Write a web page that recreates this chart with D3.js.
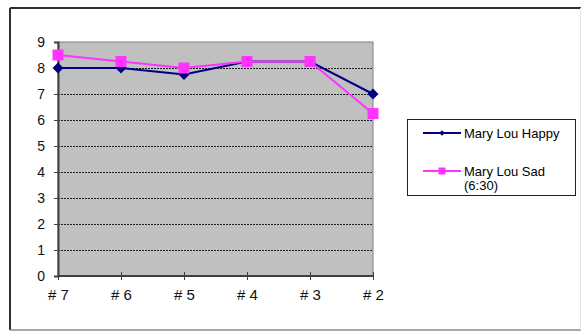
<!DOCTYPE html>
<html>
<head>
<meta charset="utf-8">
<script src="https://cdnjs.cloudflare.com/ajax/libs/d3/7.8.5/d3.min.js"></script>
<style>
body { margin: 0; background: #fff; }
svg { display: block; font-family: Arial, "Liberation Sans", sans-serif; }
</style>
</head>
<body>
<div id="chart"></div>
<script>
// data
let categories = ['# 7', '# 6', '# 5', '# 4', '# 3', '# 2'];
let happyValues = [8, 8, 7.75, 8.25, 8.25, 7];
let sadValues = [8.5, 8.25, 8, 8.25, 8.25, 6.25];
let yTicks = [0, 1, 2, 3, 4, 5, 6, 7, 8, 9];
let seriesNames = ['Mary Lou Happy', ['Mary Lou Sad', '(6:30)']];

let width = 584;
let height = 331;

let svg = d3.select('#chart')
    .append('svg')
    .attr('width', width)
    .attr('height', height);

// outer frame
svg.append('line').attr('x1', 10).attr('y1', 8).attr('x2', 581).attr('y2', 8)
    .attr('stroke', '#303030').attr('stroke-width', 2);
svg.append('line').attr('x1', 10).attr('y1', 8).attr('x2', 10).attr('y2', 330)
    .attr('stroke', '#303030').attr('stroke-width', 2);
svg.append('line').attr('x1', 10).attr('y1', 330).attr('x2', 581).attr('y2', 330)
    .attr('stroke', '#8a8a8a').attr('stroke-width', 1.5);
svg.append('line').attr('x1', 580.5).attr('y1', 8).attr('x2', 580.5).attr('y2', 330)
    .attr('stroke', '#e4e4e4').attr('stroke-width', 1);

let plot = { left: 58, top: 42, right: 373, bottom: 276 };

let xScale = d3.scalePoint()
    .domain(categories)
    .range([plot.left, plot.right])
    .padding(0);

let yScale = d3.scaleLinear()
    .domain([0, 9])
    .range([plot.bottom, plot.top]);

// plot area
svg.append('rect')
    .attr('x', plot.left)
    .attr('y', plot.top)
    .attr('width', plot.right - plot.left)
    .attr('height', plot.bottom - plot.top)
    .attr('fill', '#c0c0c0')
    .attr('stroke', '#808080')
    .attr('stroke-width', 1);

// gridlines
svg.append('g')
    .selectAll('line')
    .data(yTicks.filter(d => d > 0 && d < 9))
    .enter()
    .append('line')
    .attr('x1', plot.left)
    .attr('x2', plot.right)
    .attr('y1', d => Math.round(yScale(d)) + 0.5)
    .attr('y2', d => Math.round(yScale(d)) + 0.5)
    .attr('stroke', '#202020')
    .attr('stroke-width', 1)
    .attr('stroke-dasharray', '2,1');

// y axis
let yAxis = d3.axisLeft(yScale)
    .tickValues(yTicks)
    .tickSize(4)
    .tickPadding(9)
    .tickFormat(d3.format('d'));
let yAxisGroup = svg.append('g')
    .attr('transform', `translate(${plot.left},0)`)
    .call(yAxis);
yAxisGroup.attr('font-size', 14).attr('font-family', 'Arial, "Liberation Sans", sans-serif');
yAxisGroup.select('.domain').attr('stroke', '#404040').attr('stroke-width', 2);
yAxisGroup.selectAll('line').attr('stroke', '#404040');
yAxisGroup.selectAll('text')
    .style('font-size', '14px')
    .attr('fill', '#111');

// x axis
let xAxis = d3.axisBottom(xScale)
    .tickSize(4)
    .tickPadding(9);
let xAxisGroup = svg.append('g')
    .attr('transform', `translate(0,${plot.bottom})`)
    .call(xAxis);
xAxisGroup.attr('font-size', 14).attr('font-family', 'Arial, "Liberation Sans", sans-serif');
xAxisGroup.select('.domain').attr('stroke', '#404040').attr('stroke-width', 2)
    .attr('d', `M${plot.left},0H${plot.right}`);
xAxisGroup.selectAll('.tick line').attr('stroke', '#404040').attr('y1', -4);
xAxisGroup.selectAll('text')
    .style('font-size', '15px')
    .attr('fill', '#111');

let happyColor = '#000080';
let sadColor = '#ff33ff';

let lineGenerator = d3.line()
    .x((d, i) => xScale(categories[i]))
    .y(d => yScale(d));

// series lines
svg.append('path')
    .attr('d', lineGenerator(happyValues))
    .attr('fill', 'none')
    .attr('stroke', happyColor)
    .attr('stroke-width', 2);

svg.append('g')
    .selectAll('path')
    .data(happyValues)
    .enter()
    .append('path')
    .attr('d', d3.symbol().type(d3.symbolSquare).size(60))
    .attr('transform', (d, i) => `translate(${xScale(categories[i])},${yScale(d)}) rotate(45)`)
    .attr('fill', happyColor);

svg.append('path')
    .attr('d', lineGenerator(sadValues))
    .attr('fill', 'none')
    .attr('stroke', sadColor)
    .attr('stroke-width', 2);

svg.append('g')
    .selectAll('rect')
    .data(sadValues)
    .enter()
    .append('rect')
    .attr('x', (d, i) => xScale(categories[i]) - 5.5)
    .attr('y', d => yScale(d) - 5.5)
    .attr('width', 11)
    .attr('height', 11)
    .attr('fill', sadColor);

// legend
let legend = svg.append('g');
legend.append('rect')
    .attr('x', 407.5)
    .attr('y', 119.5)
    .attr('width', 168)
    .attr('height', 76)
    .attr('fill', '#fff')
    .attr('stroke', '#202020')
    .attr('stroke-width', 1);

legend.append('line')
    .attr('x1', 423).attr('x2', 461).attr('y1', 133).attr('y2', 133)
    .attr('stroke', happyColor).attr('stroke-width', 2);
legend.append('path')
    .attr('d', d3.symbol().type(d3.symbolSquare).size(16))
    .attr('transform', 'translate(442,133) rotate(45)')
    .attr('fill', happyColor);
legend.append('text')
    .attr('x', 464).attr('y', 137.5)
    .attr('font-size', 13)
    .text(seriesNames[0]);

legend.append('line')
    .attr('x1', 423).attr('x2', 461).attr('y1', 171).attr('y2', 171)
    .attr('stroke', sadColor).attr('stroke-width', 2);
legend.append('rect')
    .attr('x', 438.5).attr('y', 167.5).attr('width', 7).attr('height', 7)
    .attr('fill', sadColor);
let sadLabel = legend.append('text')
    .attr('x', 464).attr('y', 175.5)
    .attr('font-size', 13);
sadLabel.selectAll('tspan')
    .data(seriesNames[1])
    .enter()
    .append('tspan')
    .attr('x', 464)
    .attr('dy', (d, i) => i === 0 ? 0 : 14)
    .text(d => d);
</script>
</body>
</html>
